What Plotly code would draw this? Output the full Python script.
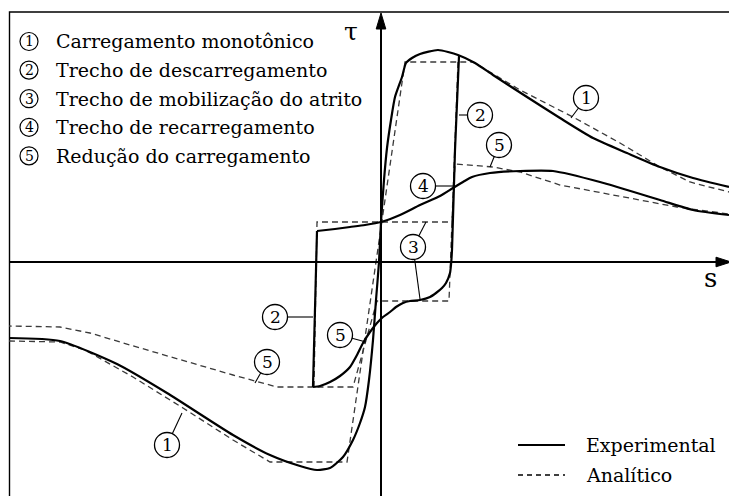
import plotly.graph_objects as go

W, H = 729, 496
S_RANGE = [-38.1, 34.8]
T_RANGE = [-23.4, 26.2]
FONT = "DejaVu Serif"

# ---- Experimental curves ----
# monotonic loading (1)
exp_mono_s = [-37.2, -32.1, -26.4, -21.4, -14.8, -11.1, -8.1, -6.4, -5.1, -3.8, -2.8, -2.1,
              -1.6, -1.2, -0.8, -0.5, -0.2, 0.0, 0.3, 0.6, 1.0, 1.4, 2.1, 2.5, 3.1, 3.9,
              5.7, 7.7, 9.4, 11.2, 14.6, 17.9, 21.2, 24.6, 27.9, 31.2, 34.8]
exp_mono_t = [-7.6, -7.9, -10.2, -13.1, -17.3, -19.3, -20.4, -20.8, -20.6, -19.5, -17.8, -16.1,
              -14.5, -11.8, -7.8, -3.8, 0.0, 4.0, 8.2, 11.4, 14.2, 16.5, 18.5, 19.9, 20.4, 20.8,
              21.2, 20.7, 19.9, 18.7, 16.5, 14.4, 12.4, 10.9, 9.5, 8.4, 7.5]
# unloading (2), friction mobilisation (3), load reduction (5)
exp_unload_s = [7.8, 7.4, 7.1, 7.0, 6.9, 6.5, 6.1, 5.5, 4.9, 3.9, 2.9, 2.2, 1.5, 0.9, 0.2,
                -0.4, -1.1, -1.8, -2.4, -3.1, -4.1, -5.1, -6.1, -6.8]
exp_unload_t = [20.6, 11.2, 1.2, -0.3, -1.1, -2.1, -2.6, -3.1, -3.5, -3.8, -3.9, -4.1, -4.5,
                -5.0, -5.5, -6.1, -7.0, -8.1, -9.3, -10.5, -11.4, -12.0, -12.4, -12.5]
# unloading on the negative side (2)
exp_back_s = [-6.8, -6.6, -6.4]
exp_back_t = [-12.5, -3.8, 3.1]
# reloading (4) and load reduction (5)
exp_reload_s = [-6.4, -4.6, -3.1, -1.6, 0.0, 1.9, 3.9, 5.9, 7.2, 8.2, 9.1, 10.9, 13.9, 17.2,
                21.9, 27.9, 31.2, 34.8]
exp_reload_t = [3.1, 3.3, 3.5, 3.7, 4.0, 4.7, 5.7, 6.6, 7.4, 8.0, 8.5, 8.9, 9.1, 9.1,
                8.0, 6.2, 5.2, 4.7]

# ---- Analytical model ----
ana_mono_s = [-37.2, -32.1, -29.6, -24.8, -19.8, -14.8, -11.1, -3.4, 2.4, 9.2, 10.9, 13.9,
              19.2, 23.9, 27.9, 30.9, 34.8]
ana_mono_t = [-7.9, -8.0, -8.8, -11.5, -14.6, -17.8, -20.0, -20.0, 20.0, 20.0, 19.0, 17.2,
              14.5, 11.9, 9.5, 8.0, 7.0]
ana_unload_s = [7.7, 6.8, -0.4, -2.8, -10.4, -14.8, -25.1, -29.1, -32.1, -37.2]
ana_unload_t = [20.0, -3.9, -3.9, -12.5, -12.5, -11.3, -8.3, -7.1, -6.5, -6.4]
ana_reload_s = [-6.7, -6.4, 7.1, 7.4, 11.2, 13.9, 17.9, 24.6, 29.6, 34.8]
ana_reload_t = [-12.5, 4.0, 4.0, 9.8, 9.5, 9.0, 7.7, 6.4, 5.5, 4.8]

# ---- Callouts: number, circle centre (s, t), points on the curves ----
callout_num = ["1", "2", "5", "4", "3", "2", "5", "5", "1"]
callout_s = [20.5, 9.9, 11.8, 4.2, 3.2, -10.6, -4.1, -11.4, -21.4]
callout_t = [16.4, 14.7, 11.7, 7.6, 1.5, -5.5, -7.3, -10.0, -18.3]
callout_targets = [[(19.0, 14.4)], [(7.8, 14.7)], [(10.9, 9.5)], [(7.4, 7.6)],
                   [(4.5, 4.0), (3.9, -3.7)], [(-6.8, -5.5)], [(-1.5, -8.0)],
                   [(-12.6, -12.1)], [(-19.9, -15.1)]]

stage_labels = ["Carregamento monotônico", "Trecho de descarregamento",
                "Trecho de mobilização do atrito", "Trecho de recarregamento",
                "Redução do carregamento"]
series_names = ["Experimental", "Analítico"]

EXP_LINE = dict(color="black", width=2.2)
ANA_LINE = dict(color="#3a3a3a", width=1.3, dash="6px,4px")

fig = go.Figure()

def add_curve(s, t, line, smooth=True):
    ln = dict(line)
    if smooth:
        ln.update(shape="spline", smoothing=0.6)
    fig.add_trace(go.Scatter(x=s, y=t, mode="lines", line=ln, hoverinfo="skip",
                             showlegend=False))

add_curve(ana_mono_s, ana_mono_t, ANA_LINE, smooth=False)
add_curve(ana_unload_s, ana_unload_t, ANA_LINE, smooth=False)
add_curve(ana_reload_s, ana_reload_t, ANA_LINE, smooth=False)
add_curve(exp_mono_s, exp_mono_t, EXP_LINE)
add_curve(exp_unload_s, exp_unload_t, EXP_LINE)
add_curve(exp_back_s, exp_back_t, EXP_LINE, smooth=False)
add_curve(exp_reload_s, exp_reload_t, EXP_LINE)

shapes = []
annotations = []

def px(x, y):
    """pixel position -> paper coordinates"""
    return x / W, 1 - y / H

def label(x_px, y_px, text, size, xanchor="center"):
    x, y = px(x_px, y_px)
    annotations.append(dict(x=x, y=y, xref="paper", yref="paper", text=text,
                            xanchor=xanchor, yanchor="middle", showarrow=False,
                            font=dict(family=FONT, size=size, color="black")))

# frame
fx0, fy1 = px(9.5, 12)
shapes.append(dict(type="rect", xref="paper", yref="paper", x0=fx0, x1=1.05, y0=-0.05, y1=fy1,
                   line=dict(color="black", width=1.4), layer="below"))

# axes with arrow heads
AX = dict(color="black", width=2)
shapes.append(dict(type="line", xref="x", yref="y", x0=0, x1=0, y0=T_RANGE[0], y1=23.6, line=AX))
shapes.append(dict(type="path", xref="x", yref="y", path="M -0.48,23.3 L 0,24.9 L 0.48,23.3 Z",
                   fillcolor="black", line=dict(color="black", width=1)))
shapes.append(dict(type="line", xref="x", yref="y", x0=-37.2, x1=33.8, y0=0, y1=0, line=AX))
shapes.append(dict(type="path", xref="x", yref="y", path="M 33.5,-0.48 L 35.0,0 L 33.5,0.48 Z",
                   fillcolor="black", line=dict(color="black", width=1)))

label(351, 32, "τ", 25)
label(710, 278, "s", 26)

# callouts on the curves
R = 1.25
for num, cs, ct, targets in zip(callout_num, callout_s, callout_t, callout_targets):
    shapes.append(dict(type="circle", xref="x", yref="y", x0=cs - R, x1=cs + R,
                       y0=ct - R, y1=ct + R, line=dict(color="black", width=1.3),
                       fillcolor="white"))
    for ts, tt in targets:
        ds, dt = ts - cs, tt - ct
        d = (ds ** 2 + dt ** 2) ** 0.5
        shapes.append(dict(type="line", xref="x", yref="y", x0=cs + R * ds / d,
                           y0=ct + R * dt / d, x1=ts, y1=tt,
                           line=dict(color="black", width=1.1)))
    annotations.append(dict(x=cs, y=ct, xref="x", yref="y", text=num, showarrow=False,
                            xanchor="center", yanchor="middle",
                            font=dict(family=FONT, size=17, color="black")))

# stage list, top left
for i, text in enumerate(stage_labels):
    yc = 41.5 + 28.6 * i
    cx0, cy0 = px(20, yc - 9)
    cx1, cy1 = px(38, yc + 9)
    shapes.append(dict(type="circle", xref="paper", yref="paper", x0=cx0, x1=cx1,
                       y0=cy1, y1=cy0, line=dict(color="black", width=1.2)))
    label(29, yc, str(i + 1), 14)
    label(54, yc, text, 19, xanchor="left")

# series key, bottom right
for name, y_px, line in zip(series_names, [445, 475], [EXP_LINE, ANA_LINE]):
    x0, yy = px(518, y_px)
    x1, _ = px(565, y_px)
    ln = dict(color="black", width=line["width"])
    if "dash" in line:
        ln["dash"] = "5px,4px"
    shapes.append(dict(type="line", xref="paper", yref="paper", x0=x0, x1=x1, y0=yy, y1=yy,
                       line=ln))
    label(584, y_px, name, 19, xanchor="left")

fig.update_layout(
    width=W, height=H, margin=dict(l=0, r=0, t=0, b=0),
    paper_bgcolor="white", plot_bgcolor="white", showlegend=False,
    xaxis=dict(range=S_RANGE, visible=False, fixedrange=True),
    yaxis=dict(range=T_RANGE, visible=False, fixedrange=True),
    shapes=shapes, annotations=annotations,
)

fig.write_html("out.html")
